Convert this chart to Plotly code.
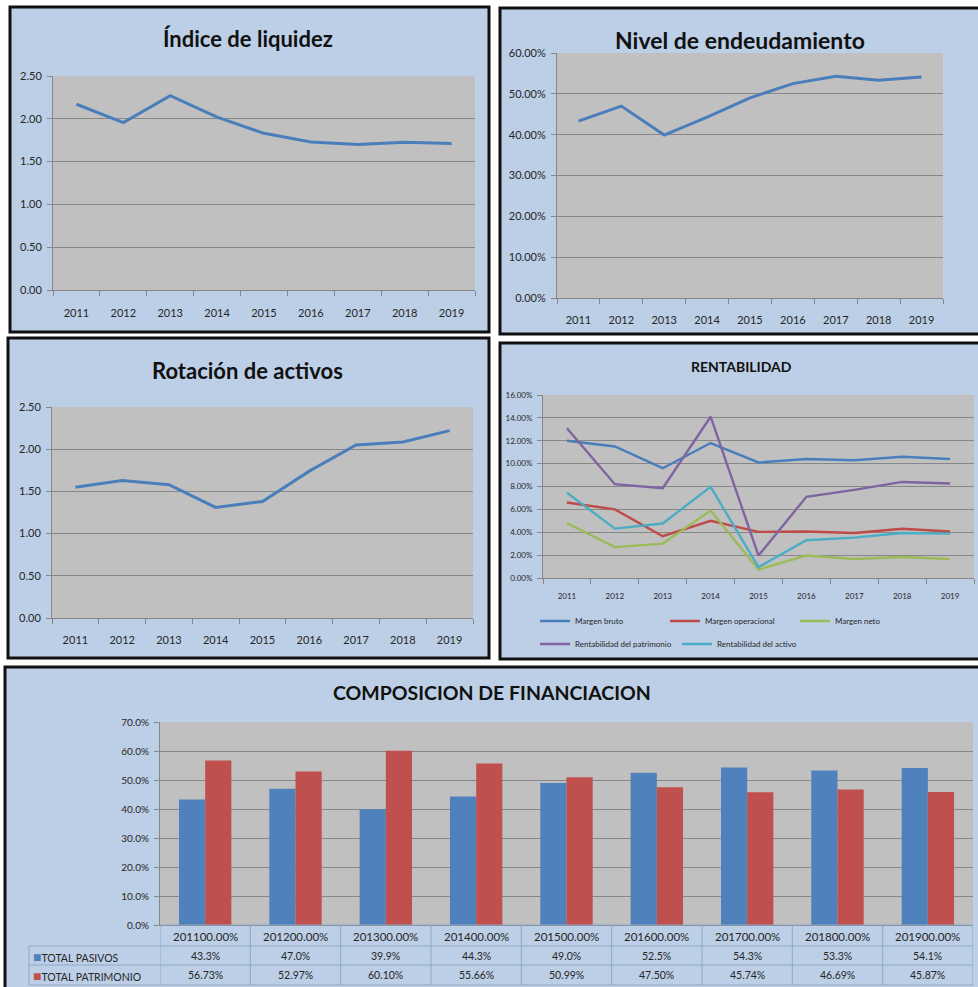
import plotly.graph_objects as go

# ---------------- data ----------------
years = ["2011", "2012", "2013", "2014", "2015", "2016", "2017", "2018", "2019"]
liquidez = [2.17, 1.955, 2.27, 2.02, 1.83, 1.73, 1.70, 1.725, 1.71]
endeudamiento = [43.3, 47.0, 39.9, 44.3, 49.0, 52.5, 54.3, 53.3, 54.1]
rotacion = [1.55, 1.63, 1.58, 1.31, 1.38, 1.74, 2.05, 2.085, 2.22]

margen_bruto = [12.0, 11.5, 9.6, 11.8, 10.1, 10.4, 10.3, 10.6, 10.4]
margen_operacional = [6.6, 6.0, 3.65, 5.0, 4.03, 4.06, 3.94, 4.3, 4.06]
margen_neto = [4.8, 2.7, 3.0, 5.9, 0.73, 1.96, 1.66, 1.84, 1.66]
rent_patrimonio = [13.1, 8.2, 7.85, 14.1, 1.96, 7.1, 7.7, 8.4, 8.26]
rent_activo = [7.45, 4.32, 4.76, 7.97, 0.96, 3.3, 3.53, 3.94, 3.88]

periodos = ["201100.00%", "201200.00%", "201300.00%", "201400.00%", "201500.00%",
            "201600.00%", "201700.00%", "201800.00%", "201900.00%"]
total_pasivos = [43.3, 47.0, 39.9, 44.3, 49.0, 52.5, 54.3, 53.3, 54.1]
total_patrimonio = [56.73, 52.97, 60.10, 55.66, 50.99, 47.50, 45.74, 46.69, 45.87]

# ---------------- styling ----------------
W, H = 978, 987
FONT = "Lato"
BLUE = "#4A7EBB"
RED = "#BE4B48"
GREEN = "#9BBB59"
PURPLE = "#8064A2"
CYAN = "#4BACC6"
BAR_BLUE = "#4F81BD"
BAR_RED = "#C0504D"
PANEL = "#BCCFE6"
PLOTBG = "#C0C0C0"
GRID = "#878787"
TXT = "#262626"
TABLE_LINE = "#8FA8C6"


def px(x):
    return x / W


def py(y):
    return 1 - y / H


fig = go.Figure()

# Panel 1
fig.add_trace(go.Scatter(x=years, y=liquidez, xaxis="x", yaxis="y", mode="lines",
                         line=dict(color=BLUE, width=3), showlegend=False))
# Panel 2
fig.add_trace(go.Scatter(x=years, y=endeudamiento, xaxis="x2", yaxis="y2", mode="lines",
                         line=dict(color=BLUE, width=3), showlegend=False))
# Panel 3
fig.add_trace(go.Scatter(x=years, y=rotacion, xaxis="x3", yaxis="y3", mode="lines",
                         line=dict(color=BLUE, width=3), showlegend=False))
# Panel 4
rent_series = [
    ("Margen bruto", margen_bruto, BLUE, "legend"),
    ("Margen operacional", margen_operacional, RED, "legend"),
    ("Margen neto", margen_neto, GREEN, "legend"),
    ("Rentabilidad del patrimonio", rent_patrimonio, PURPLE, "legend2"),
    ("Rentabilidad del activo", rent_activo, CYAN, "legend2"),
]
for name, vals, col, lg in rent_series:
    fig.add_trace(go.Scatter(x=years, y=vals, xaxis="x4", yaxis="y4", mode="lines", name=name,
                             line=dict(color=col, width=2.4), legend=lg))
# Panel 5
fig.add_trace(go.Bar(x=periodos, y=total_pasivos, xaxis="x5", yaxis="y5", name="TOTAL PASIVOS",
                     marker=dict(color=BAR_BLUE, line=dict(width=0)), showlegend=False))
fig.add_trace(go.Bar(x=periodos, y=total_patrimonio, xaxis="x5", yaxis="y5", name="TOTAL PATRIMONIO",
                     marker=dict(color=BAR_RED, line=dict(width=0)), showlegend=False))

NCAT = len(years)


def xaxis(dom, anchor, size, standoff, showlabels=True):
    return dict(domain=dom, anchor=anchor, type="category", range=[-0.5, NCAT - 0.5],
                showgrid=False, showline=True, automargin=False,
                linecolor=GRID, linewidth=1, ticks="outside", ticklen=5, tickcolor=GRID,
                tickson="boundaries", tickfont=dict(size=size, color=TXT, family=FONT),
                ticklabelstandoff=standoff, fixedrange=True, showticklabels=showlabels)


def yaxis(dom, anchor, rng, dtick, fmt, size, suffix=""):
    return dict(domain=dom, anchor=anchor, range=rng, dtick=dtick, tick0=0, tickformat=fmt,
                ticksuffix=suffix, showgrid=True, gridcolor=GRID, gridwidth=1, showline=True,
                linecolor=GRID, linewidth=1, ticks="outside", ticklen=5, tickcolor=GRID,
                zeroline=False, tickfont=dict(size=size, color=TXT, family=FONT), fixedrange=True,
                ticklabelstandoff=3, automargin=False)


layout_axes = dict(
    xaxis=xaxis([px(53), px(475)], "y", 11, 13),
    yaxis=yaxis([py(290), py(76)], "x", [0, 2.5], 0.5, ".2f", 11),
    xaxis2=xaxis([px(557), px(943)], "y2", 11, 12),
    yaxis2=yaxis([py(298), py(53)], "x2", [0, 60], 10, ".2f", 11, "%"),
    xaxis3=xaxis([px(52), px(473)], "y3", 11, 12),
    yaxis3=yaxis([py(618), py(407)], "x3", [0, 2.5], 0.5, ".2f", 11),
    xaxis4=xaxis([px(543), px(974)], "y4", 8, 10),
    yaxis4=yaxis([py(578), py(395)], "x4", [0, 16], 2, ".2f", 8, "%"),
    xaxis5=dict(domain=[px(160), px(973)], anchor="y5", type="category", automargin=False,
                range=[-0.5, len(periodos) - 0.5], showgrid=False,
                showline=True, linecolor=GRID, ticks="", showticklabels=False, fixedrange=True),
    yaxis5=yaxis([py(925), py(722)], "x5", [0, 70], 10, ".1f", 10, "%"),
)

shapes = []
# panel backgrounds with borders
panels = [(10, 7, 489, 332), (500, 8, 985, 334), (8, 338, 489, 658), (500, 343, 985, 659),
          (5, 667, 985, 995)]
for x0, y0, x1, y1 in panels:
    shapes.append(dict(type="rect", xref="paper", yref="paper", x0=px(x0), x1=px(x1),
                       y0=py(y1), y1=py(y0), fillcolor=PANEL,
                       line=dict(color="#111111", width=3), layer="below"))
# gray plot areas
for ax in ["", "2", "3", "4", "5"]:
    shapes.append(dict(type="rect", xref=f"x{ax} domain", yref=f"y{ax} domain", x0=0, x1=1,
                       y0=0, y1=1, fillcolor=PLOTBG, line=dict(width=0), layer="below"))

# data table under bar chart
row_tops = [925, 946, 965, 985]
ncat = len(periodos)
for i in range(ncat + 1):
    shapes.append(dict(type="line", xref="x5", yref="paper", x0=i - 0.5, x1=i - 0.5,
                       y0=py(row_tops[-1]), y1=py(row_tops[0]),
                       line=dict(color=TABLE_LINE, width=1)))
shapes.append(dict(type="line", xref="paper", yref="paper", x0=px(29), x1=px(29),
                   y0=py(row_tops[-1]), y1=py(row_tops[1]), line=dict(color=TABLE_LINE, width=1)))
for k, yy in enumerate(row_tops):
    x_start = px(160) if k == 0 else px(29)
    shapes.append(dict(type="line", xref="paper", yref="paper", x0=x_start, x1=px(973),
                       y0=py(yy), y1=py(yy), line=dict(color=TABLE_LINE, width=1)))

annotations = []
titles = [
    ("Índice de liquidez", 248, 38, 22),
    ("Nivel de endeudamiento", 740, 40, 23),
    ("Rotación de activos", 247, 370, 22),
    ("RENTABILIDAD", 741, 367, 14),
    ("COMPOSICION DE FINANCIACION", 492, 692, 19.5),
]
for text, x, y, s in titles:
    annotations.append(dict(text=f"<b>{text}</b>", x=px(x), y=py(y), xref="paper", yref="paper",
                            showarrow=False, xanchor="center", yanchor="middle",
                            font=dict(size=s, color="#111111", family=FONT)))

row_centers = [936, 956, 975]
for i, cat in enumerate(periodos):
    annotations.append(dict(text=cat, x=cat, y=py(row_centers[0]), xref="x5", yref="paper",
                            yanchor="middle", showarrow=False,
                            font=dict(size=11.5, color=TXT, family=FONT)))
    annotations.append(dict(text=f"{total_pasivos[i]:.1f}%", x=cat, y=py(row_centers[1]),
                            xref="x5", yref="paper", yanchor="middle", showarrow=False,
                            font=dict(size=10.5, color=TXT, family=FONT)))
    annotations.append(dict(text=f"{total_patrimonio[i]:.2f}%", x=cat, y=py(row_centers[2]),
                            xref="x5", yref="paper", yanchor="middle", showarrow=False,
                            font=dict(size=10.5, color=TXT, family=FONT)))
for label, col, yy in [("TOTAL PASIVOS", BAR_BLUE, row_centers[1]),
                       ("TOTAL PATRIMONIO", BAR_RED, row_centers[2])]:
    annotations.append(dict(text=f"<span style='color:{col};font-size:14px'>■</span>{label}",
                            x=px(31), y=py(yy), xref="paper", yref="paper", xanchor="left",
                            yanchor="middle", showarrow=False,
                            font=dict(size=10.5, color=TXT, family=FONT)))

legend_common = dict(orientation="h", xanchor="left", yanchor="middle",
                     entrywidthmode="pixels", itemwidth=30, bgcolor="rgba(0,0,0,0)",
                     font=dict(size=8, color=TXT, family=FONT), itemclick=False,
                     itemdoubleclick=False)

fig.update_layout(
    width=W, height=H,
    margin=dict(l=0, r=0, t=0, b=0, autoexpand=False),
    paper_bgcolor="white",
    plot_bgcolor="rgba(0,0,0,0)",
    font=dict(family=FONT, color=TXT),
    barmode="group", bargap=0.42, bargroupgap=0,
    shapes=shapes,
    annotations=annotations,
    legend=dict(x=px(535), y=py(621), entrywidth=85, **legend_common),
    legend2=dict(x=px(535), y=py(644), entrywidth=97, **legend_common),
    hovermode=False,
    **layout_axes,
)

post = (
    "document.documentElement.style.margin='0';document.documentElement.style.overflow='hidden';"
    "document.body.style.margin='0';document.body.style.overflow='hidden';"
)
fig.write_html("out.html", post_script=post)
